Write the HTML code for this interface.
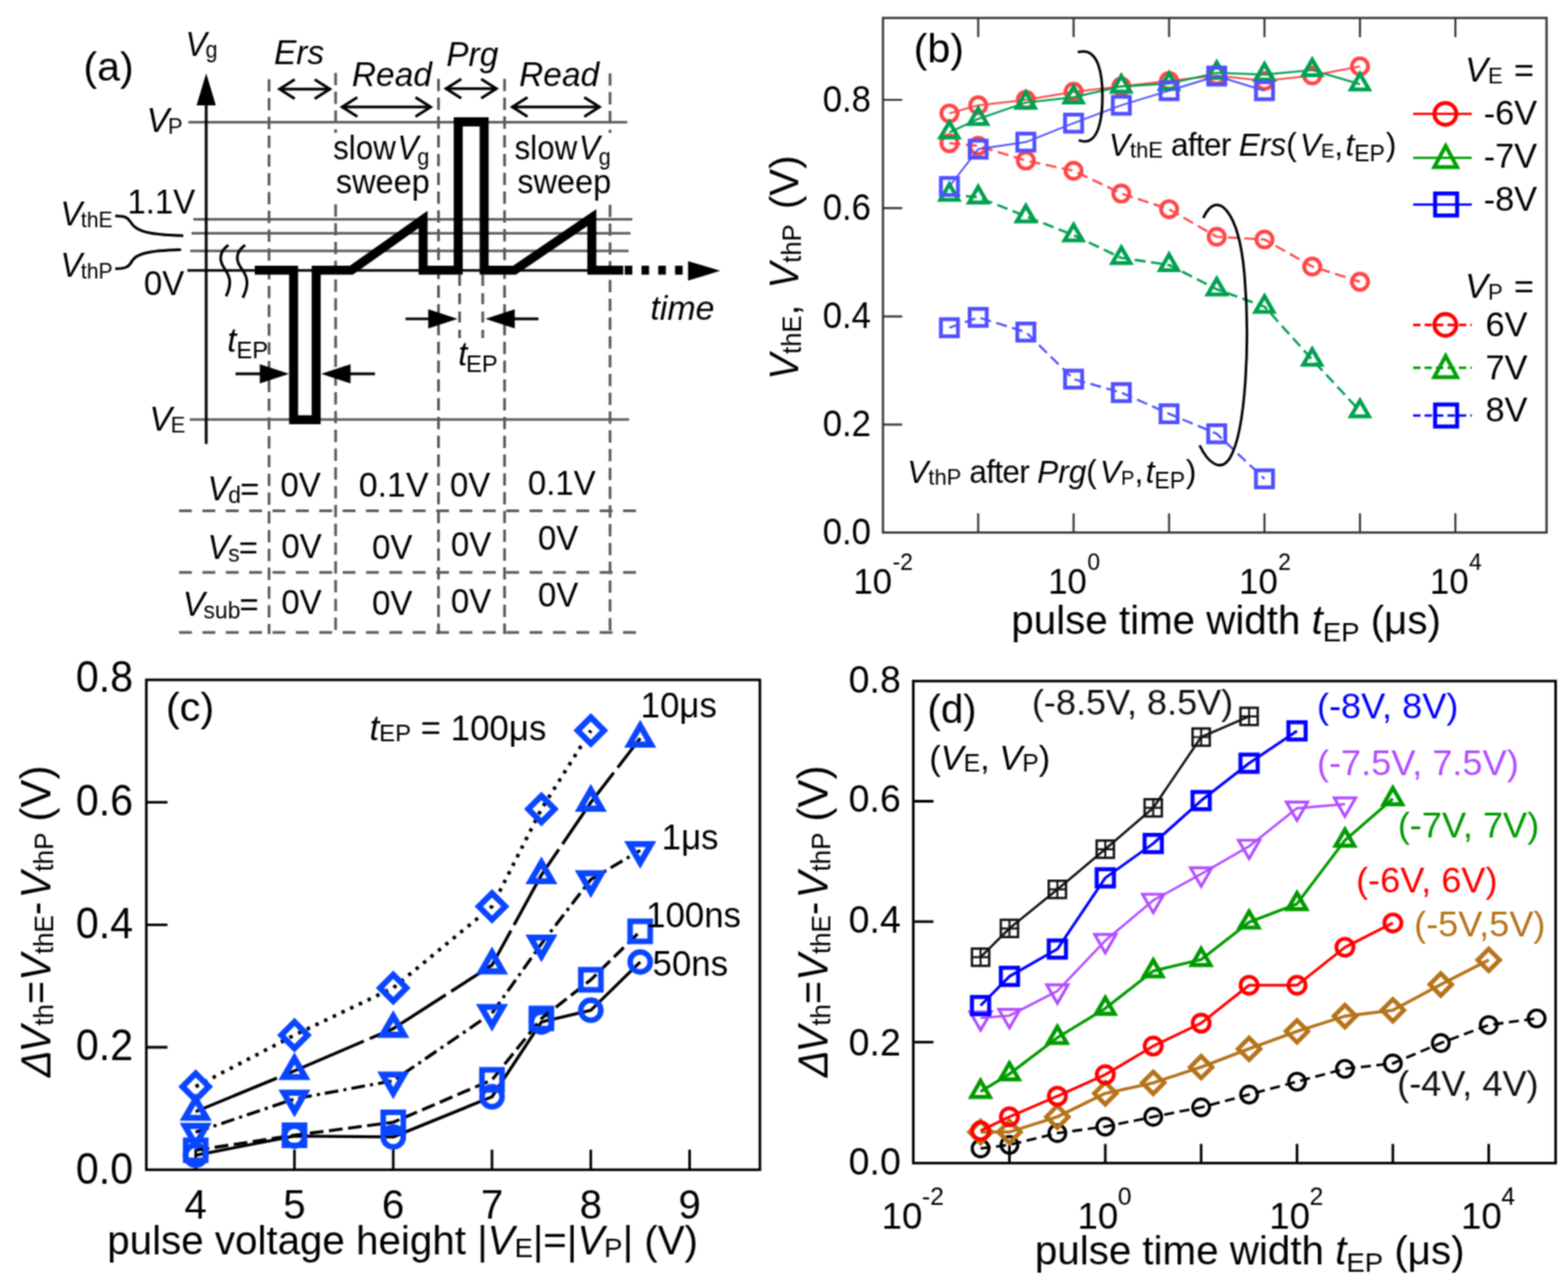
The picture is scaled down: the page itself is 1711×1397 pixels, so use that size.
<!DOCTYPE html>
<html lang="en"><head><meta charset="utf-8"><title>Figure</title>
<style>
html,body{margin:0;padding:0;background:#fff;}
body{width:1711px;height:1397px;overflow:hidden;}
svg{display:block;font-family:'Liberation Sans', sans-serif;}
</style></head><body>
<svg width="1711" height="1397" viewBox="0 0 1711 1397">
<defs><filter id="soft" x="0" y="0" width="1711" height="1397" filterUnits="userSpaceOnUse" color-interpolation-filters="sRGB"><feConvolveMatrix order="3" kernelMatrix="1 2 1 2 4 2 1 2 1" divisor="16" edgeMode="duplicate" preserveAlpha="true"/></filter></defs>
<g filter="url(#soft)">
<rect width="1711" height="1397" fill="#fff"/>
<g id="panel-a">
<line x1="293.6" y1="86.5" x2="293.6" y2="692" stroke="#5c5c5c" stroke-width="3" stroke-linecap="butt" stroke-dasharray="13.5 7"/>
<line x1="366.2" y1="79.5" x2="366.2" y2="692" stroke="#5c5c5c" stroke-width="3" stroke-linecap="butt" stroke-dasharray="13.5 7"/>
<line x1="478.5" y1="86" x2="478.5" y2="692" stroke="#5c5c5c" stroke-width="3" stroke-linecap="butt" stroke-dasharray="13.5 7"/>
<line x1="550.6" y1="86" x2="550.6" y2="692" stroke="#5c5c5c" stroke-width="3" stroke-linecap="butt" stroke-dasharray="13.5 7"/>
<line x1="665.7" y1="80" x2="665.7" y2="692" stroke="#5c5c5c" stroke-width="3" stroke-linecap="butt" stroke-dasharray="13.5 7"/>
<line x1="195.4" y1="557.5" x2="696" y2="557.5" stroke="#5c5c5c" stroke-width="3" stroke-linecap="butt" stroke-dasharray="14 11.5"/>
<line x1="195.4" y1="624.8" x2="696" y2="624.8" stroke="#5c5c5c" stroke-width="3" stroke-linecap="butt" stroke-dasharray="14 11.5"/>
<line x1="195.4" y1="690.3" x2="696" y2="690.3" stroke="#5c5c5c" stroke-width="3" stroke-linecap="butt" stroke-dasharray="14 11.5"/>
<rect x="361" y="145" width="112" height="74" fill="#fff"/>
<rect x="556" y="145" width="114" height="74" fill="#fff"/>
<line x1="205.5" y1="133.3" x2="684.5" y2="133.3" stroke="#5c5c5c" stroke-width="2.8" stroke-linecap="butt"/>
<line x1="211" y1="239.4" x2="690" y2="239.4" stroke="#5c5c5c" stroke-width="2.8" stroke-linecap="butt"/>
<line x1="209" y1="254.6" x2="688" y2="254.6" stroke="#5c5c5c" stroke-width="2.8" stroke-linecap="butt"/>
<line x1="207.5" y1="273.8" x2="686" y2="273.8" stroke="#5c5c5c" stroke-width="2.8" stroke-linecap="butt"/>
<line x1="207" y1="457.8" x2="686.5" y2="457.8" stroke="#5c5c5c" stroke-width="2.8" stroke-linecap="butt"/>
<line x1="501.5" y1="300" x2="501.5" y2="369" stroke="#5c5c5c" stroke-width="3" stroke-linecap="butt" stroke-dasharray="12 8"/>
<line x1="526.8" y1="300" x2="526.8" y2="369" stroke="#5c5c5c" stroke-width="3" stroke-linecap="butt" stroke-dasharray="12 8"/>
<line x1="225" y1="112" x2="225" y2="484.5" stroke="#000" stroke-width="3" stroke-linecap="butt"/>
<polygon points="225,80 235.5,115 214.5,115" fill="#000"/>
<line x1="204.5" y1="295.2" x2="680" y2="295.2" stroke="#000" stroke-width="2.8" stroke-linecap="butt"/>
<path d="M278,294.8 H320.4 V458.2 H345 V294.8 H383.5 L461.7,239.5 V294.8 H500 V133 H528.3 V294.8 H561.5 L645.8,237.5 V294.8 H680" stroke="#000" stroke-width="9.8" fill="none" stroke-linejoin="miter" stroke-linecap="butt" stroke-miterlimit="2.2"/>
<line x1="681.7" y1="294.8" x2="752" y2="294.8" stroke="#000" stroke-width="9.8" stroke-linecap="butt" stroke-dasharray="8.3 10"/>
<polygon points="786,295.6 750.8,285 750.8,306.2" fill="#000"/>
<path d="M249.2,267.5 C240,274 238.5,283 244,291.5 C250.5,301 254,308 246.7,323.3" stroke="#000" stroke-width="3" fill="none" stroke-linejoin="miter" stroke-linecap="butt"/>
<path d="M267.5,267.5 C258,274 256.5,283 262.5,291.5 C269.5,301 273,309 265,325" stroke="#000" stroke-width="3" fill="none" stroke-linejoin="miter" stroke-linecap="butt"/>
<path d="M125.8,235.8 C137,235.5 140,238 143,243 C147,250 155,256 200,257.2" stroke="#000" stroke-width="2.9" fill="none" stroke-linejoin="miter" stroke-linecap="butt"/>
<path d="M125.8,293.3 C137,293.5 141,291 144,285 C148,278 158,273.5 197.5,272.5" stroke="#000" stroke-width="2.9" fill="none" stroke-linejoin="miter" stroke-linecap="butt"/>
<line x1="305.1" y1="97.3" x2="359.9" y2="97.3" stroke="#000" stroke-width="3.1" stroke-linecap="butt"/>
<path d="M321.6,86.8 L305.1,97.3 L321.6,107.8" stroke="#000" stroke-width="3.1" fill="none" stroke-linejoin="miter" stroke-linecap="butt"/>
<path d="M343.4,86.8 L359.9,97.3 L343.4,107.8" stroke="#000" stroke-width="3.1" fill="none" stroke-linejoin="miter" stroke-linecap="butt"/>
<line x1="373.4" y1="116.8" x2="469.9" y2="116.8" stroke="#000" stroke-width="3.1" stroke-linecap="butt"/>
<path d="M389.90000000000003,106.3 L373.40000000000003,116.8 L389.90000000000003,127.3" stroke="#000" stroke-width="3.1" fill="none" stroke-linejoin="miter" stroke-linecap="butt"/>
<path d="M453.4,106.3 L469.9,116.8 L453.4,127.3" stroke="#000" stroke-width="3.1" fill="none" stroke-linejoin="miter" stroke-linecap="butt"/>
<line x1="486.8" y1="96.7" x2="541.6" y2="96.7" stroke="#000" stroke-width="3.1" stroke-linecap="butt"/>
<path d="M503.3,86.2 L486.8,96.7 L503.3,107.2" stroke="#000" stroke-width="3.1" fill="none" stroke-linejoin="miter" stroke-linecap="butt"/>
<path d="M525.1,86.2 L541.6,96.7 L525.1,107.2" stroke="#000" stroke-width="3.1" fill="none" stroke-linejoin="miter" stroke-linecap="butt"/>
<line x1="559.1" y1="116.8" x2="654.1" y2="116.8" stroke="#000" stroke-width="3.1" stroke-linecap="butt"/>
<path d="M575.6,106.3 L559.1,116.8 L575.6,127.3" stroke="#000" stroke-width="3.1" fill="none" stroke-linejoin="miter" stroke-linecap="butt"/>
<path d="M637.6,106.3 L654.1,116.8 L637.6,127.3" stroke="#000" stroke-width="3.1" fill="none" stroke-linejoin="miter" stroke-linecap="butt"/>
<line x1="289.9" y1="408" x2="257" y2="408" stroke="#000" stroke-width="2.8" stroke-linecap="butt"/>
<polygon points="315.5,408 283.5,397.5 283.5,418.5" fill="#000"/>
<line x1="376.1" y1="408" x2="409.2" y2="408" stroke="#000" stroke-width="2.8" stroke-linecap="butt"/>
<polygon points="350.5,408 382.5,397.5 382.5,418.5" fill="#000"/>
<line x1="473.7" y1="348" x2="442.5" y2="348" stroke="#000" stroke-width="2.8" stroke-linecap="butt"/>
<polygon points="499.3,348 467.3,337.5 467.3,358.5" fill="#000"/>
<line x1="555.3" y1="348" x2="587.5" y2="348" stroke="#000" stroke-width="2.8" stroke-linecap="butt"/>
<polygon points="529.7,348 561.7,337.5 561.7,358.5" fill="#000"/>
<text transform="translate(91 88) scale(1.02 1)" font-size="44" text-anchor="start" fill="#000"><tspan>(a)</tspan></text>
<text transform="translate(202.5 61) scale(0.94 1)" font-size="37" text-anchor="start" fill="#000"><tspan font-style="italic">V</tspan><tspan font-size="25" dy="2" dx="-1.5">g</tspan></text>
<text x="160" y="144" font-size="37" text-anchor="start" fill="#000"><tspan font-style="italic">V</tspan><tspan font-size="24" dy="2" dx="-1.5">P</tspan></text>
<text x="139" y="233" font-size="36" text-anchor="start" fill="#000"><tspan>1.1V</tspan></text>
<text transform="translate(66 246) scale(0.96 1)" font-size="37" text-anchor="start" fill="#000"><tspan font-style="italic">V</tspan><tspan font-size="24" dy="2" dx="-1.5">thE</tspan></text>
<text transform="translate(66 302) scale(0.96 1)" font-size="37" text-anchor="start" fill="#000"><tspan font-style="italic">V</tspan><tspan font-size="24" dy="2" dx="-1.5">thP</tspan></text>
<text x="157" y="322" font-size="36" text-anchor="start" fill="#000"><tspan>0V</tspan></text>
<text x="163" y="470" font-size="37" text-anchor="start" fill="#000"><tspan font-style="italic">V</tspan><tspan font-size="24" dy="2" dx="-1.5">E</tspan></text>
<text x="299" y="69.5" font-size="36.5" text-anchor="start" fill="#000"><tspan font-style="italic">Ers</tspan></text>
<text x="384" y="93.5" font-size="36.5" text-anchor="start" fill="#000"><tspan font-style="italic">Read</tspan></text>
<text x="487" y="71.5" font-size="36.5" text-anchor="start" fill="#000"><tspan font-style="italic">Prg</tspan></text>
<text x="566.5" y="93.5" font-size="36.5" text-anchor="start" fill="#000"><tspan font-style="italic">Read</tspan></text>
<text transform="translate(363.5 173.5) scale(0.95 1)" font-size="36" text-anchor="start" fill="#000"><tspan>slow</tspan><tspan font-style="italic" dx="2">V</tspan><tspan font-size="25" dy="6" dx="-1.5">g</tspan></text>
<text transform="translate(366.5 210.5) scale(0.985 1)" font-size="36" text-anchor="start" fill="#000"><tspan>sweep</tspan></text>
<text transform="translate(561.5 173.5) scale(0.95 1)" font-size="36" text-anchor="start" fill="#000"><tspan>slow</tspan><tspan font-style="italic" dx="2">V</tspan><tspan font-size="25" dy="6" dx="-1.5">g</tspan></text>
<text transform="translate(564.5 210.5) scale(0.985 1)" font-size="36" text-anchor="start" fill="#000"><tspan>sweep</tspan></text>
<text x="709.7" y="349" font-size="37" text-anchor="start" fill="#000"><tspan font-style="italic">time</tspan></text>
<text x="248" y="384" font-size="36" text-anchor="start" fill="#000"><tspan font-style="italic">t</tspan><tspan font-size="26" dy="7">EP</tspan></text>
<text x="500" y="399" font-size="36" text-anchor="start" fill="#000"><tspan font-style="italic">t</tspan><tspan font-size="26" dy="7" dx="-1.5">EP</tspan></text>
<text x="226.5" y="545.5" font-size="36" text-anchor="start" fill="#000"><tspan font-style="italic">V</tspan><tspan font-size="25" dy="3" dx="-1.5">d</tspan><tspan dy="-3" dx="-1">=</tspan></text>
<text x="226.5" y="609.5" font-size="36" text-anchor="start" fill="#000"><tspan font-style="italic">V</tspan><tspan font-size="25" dy="3" dx="-1.5">s</tspan><tspan dy="-3" dx="-1">=</tspan></text>
<text x="199.5" y="671.5" font-size="36" text-anchor="start" fill="#000"><tspan font-style="italic">V</tspan><tspan font-size="25" dy="3" dx="-1.5">sub</tspan><tspan dy="-3" dx="-1">=</tspan></text>
<text x="306" y="542" font-size="36" text-anchor="start" fill="#000"><tspan>0V</tspan></text>
<text x="307" y="608.6" font-size="36" text-anchor="start" fill="#000"><tspan>0V</tspan></text>
<text x="307" y="669.5" font-size="36" text-anchor="start" fill="#000"><tspan>0V</tspan></text>
<text x="391.5" y="542" font-size="37" text-anchor="start" fill="#000"><tspan>0.1V</tspan></text>
<text x="406" y="609.8" font-size="36" text-anchor="start" fill="#000"><tspan>0V</tspan></text>
<text x="406" y="670.7" font-size="36" text-anchor="start" fill="#000"><tspan>0V</tspan></text>
<text x="491" y="542" font-size="36" text-anchor="start" fill="#000"><tspan>0V</tspan></text>
<text x="492" y="606.7" font-size="36" text-anchor="start" fill="#000"><tspan>0V</tspan></text>
<text x="492" y="668.6" font-size="36" text-anchor="start" fill="#000"><tspan>0V</tspan></text>
<text x="576" y="540" font-size="36" text-anchor="start" fill="#000"><tspan>0.1V</tspan></text>
<text x="587" y="599.9" font-size="36" text-anchor="start" fill="#000"><tspan>0V</tspan></text>
<text x="587" y="661.9" font-size="36" text-anchor="start" fill="#000"><tspan>0V</tspan></text>
</g>
<g id="panel-b">
<path d="M1036.0,156.3 L1067.4,159.2 L1119.4,175.2 L1171.5,186.4 L1223.6,211.2 L1275.7,228.3 L1327.7,258.4 L1379.8,261.4 L1431.9,290.9 L1484.0,307.5" stroke="#ff4646" stroke-width="2.4" fill="none" stroke-linejoin="round" stroke-linecap="butt" stroke-dasharray="12 6"/>
<circle cx="1036.0" cy="156.3" r="8.8" stroke="#ff4646" stroke-width="4.2" fill="none"/>
<circle cx="1067.4" cy="159.2" r="8.8" stroke="#ff4646" stroke-width="4.2" fill="none"/>
<circle cx="1119.4" cy="175.2" r="8.8" stroke="#ff4646" stroke-width="4.2" fill="none"/>
<circle cx="1171.5" cy="186.4" r="8.8" stroke="#ff4646" stroke-width="4.2" fill="none"/>
<circle cx="1223.6" cy="211.2" r="8.8" stroke="#ff4646" stroke-width="4.2" fill="none"/>
<circle cx="1275.7" cy="228.3" r="8.8" stroke="#ff4646" stroke-width="4.2" fill="none"/>
<circle cx="1327.7" cy="258.4" r="8.8" stroke="#ff4646" stroke-width="4.2" fill="none"/>
<circle cx="1379.8" cy="261.4" r="8.8" stroke="#ff4646" stroke-width="4.2" fill="none"/>
<circle cx="1431.9" cy="290.9" r="8.8" stroke="#ff4646" stroke-width="4.2" fill="none"/>
<circle cx="1484.0" cy="307.5" r="8.8" stroke="#ff4646" stroke-width="4.2" fill="none"/>
<path d="M1036.0,212.4 L1067.4,215.3 L1119.4,236.0 L1171.5,256.7 L1223.6,281.5 L1275.7,289.2 L1327.7,315.7 L1379.8,334.6 L1431.9,392.5 L1484.0,448.6" stroke="#00a050" stroke-width="2.6" fill="none" stroke-linejoin="round" stroke-linecap="butt" stroke-dasharray="12 6"/>
<polygon points="1036.0,201.0 1045.9,218.1 1026.1,218.1" stroke="#00a050" stroke-width="4.3" fill="none" stroke-linejoin="miter"/>
<polygon points="1067.4,203.9 1077.2,221.0 1057.5,221.0" stroke="#00a050" stroke-width="4.3" fill="none" stroke-linejoin="miter"/>
<polygon points="1119.4,224.6 1129.3,241.7 1109.5,241.7" stroke="#00a050" stroke-width="4.3" fill="none" stroke-linejoin="miter"/>
<polygon points="1171.5,245.3 1181.4,262.4 1161.6,262.4" stroke="#00a050" stroke-width="4.3" fill="none" stroke-linejoin="miter"/>
<polygon points="1223.6,270.1 1233.5,287.2 1213.7,287.2" stroke="#00a050" stroke-width="4.3" fill="none" stroke-linejoin="miter"/>
<polygon points="1275.7,277.7 1285.5,294.9 1265.8,294.9" stroke="#00a050" stroke-width="4.3" fill="none" stroke-linejoin="miter"/>
<polygon points="1327.7,304.3 1337.6,321.4 1317.8,321.4" stroke="#00a050" stroke-width="4.3" fill="none" stroke-linejoin="miter"/>
<polygon points="1379.8,323.2 1389.7,340.3 1369.9,340.3" stroke="#00a050" stroke-width="4.3" fill="none" stroke-linejoin="miter"/>
<polygon points="1431.9,381.1 1441.8,398.2 1422.0,398.2" stroke="#00a050" stroke-width="4.3" fill="none" stroke-linejoin="miter"/>
<polygon points="1484.0,437.2 1493.8,454.3 1474.1,454.3" stroke="#00a050" stroke-width="4.3" fill="none" stroke-linejoin="miter"/>
<path d="M1036.0,357.7 L1067.4,346.4 L1119.4,362.4 L1171.5,413.8 L1223.6,428.5 L1275.7,451.6 L1327.7,473.4 L1379.8,522.6" stroke="#5050ff" stroke-width="2.4" fill="none" stroke-linejoin="round" stroke-linecap="butt" stroke-dasharray="12 6"/>
<rect x="1026.7" y="348.4" width="18.6" height="18.6" stroke="#5050ff" stroke-width="4.2" fill="none"/>
<rect x="1058.1" y="337.1" width="18.6" height="18.6" stroke="#5050ff" stroke-width="4.2" fill="none"/>
<rect x="1110.1" y="353.1" width="18.6" height="18.6" stroke="#5050ff" stroke-width="4.2" fill="none"/>
<rect x="1162.2" y="404.5" width="18.6" height="18.6" stroke="#5050ff" stroke-width="4.2" fill="none"/>
<rect x="1214.3" y="419.2" width="18.6" height="18.6" stroke="#5050ff" stroke-width="4.2" fill="none"/>
<rect x="1266.4" y="442.3" width="18.6" height="18.6" stroke="#5050ff" stroke-width="4.2" fill="none"/>
<rect x="1318.4" y="464.1" width="18.6" height="18.6" stroke="#5050ff" stroke-width="4.2" fill="none"/>
<rect x="1370.5" y="513.3" width="18.6" height="18.6" stroke="#5050ff" stroke-width="4.2" fill="none"/>
<path d="M1036.0,123.8 L1067.4,114.9 L1119.4,109.0 L1171.5,100.2 L1223.6,94.3 L1275.7,88.3 L1327.7,82.4 L1379.8,88.3 L1431.9,82.4 L1484.0,72.4" stroke="#ff4646" stroke-width="2" fill="none" stroke-linejoin="round" stroke-linecap="butt"/>
<circle cx="1036.0" cy="123.8" r="8.8" stroke="#ff4646" stroke-width="4.2" fill="none"/>
<circle cx="1067.4" cy="114.9" r="8.8" stroke="#ff4646" stroke-width="4.2" fill="none"/>
<circle cx="1119.4" cy="109.0" r="8.8" stroke="#ff4646" stroke-width="4.2" fill="none"/>
<circle cx="1171.5" cy="100.2" r="8.8" stroke="#ff4646" stroke-width="4.2" fill="none"/>
<circle cx="1223.6" cy="94.3" r="8.8" stroke="#ff4646" stroke-width="4.2" fill="none"/>
<circle cx="1275.7" cy="88.3" r="8.8" stroke="#ff4646" stroke-width="4.2" fill="none"/>
<circle cx="1327.7" cy="82.4" r="8.8" stroke="#ff4646" stroke-width="4.2" fill="none"/>
<circle cx="1379.8" cy="88.3" r="8.8" stroke="#ff4646" stroke-width="4.2" fill="none"/>
<circle cx="1431.9" cy="82.4" r="8.8" stroke="#ff4646" stroke-width="4.2" fill="none"/>
<circle cx="1484.0" cy="72.4" r="8.8" stroke="#ff4646" stroke-width="4.2" fill="none"/>
<path d="M1036.0,144.5 L1067.4,129.7 L1119.4,112.0 L1171.5,106.1 L1223.6,94.3 L1275.7,91.3 L1327.7,79.5 L1379.8,81.3 L1431.9,76.5 L1484.0,91.9" stroke="#00a050" stroke-width="2.2" fill="none" stroke-linejoin="round" stroke-linecap="butt"/>
<polygon points="1036.0,133.1 1045.9,150.2 1026.1,150.2" stroke="#00a050" stroke-width="4.3" fill="none" stroke-linejoin="miter"/>
<polygon points="1067.4,118.3 1077.2,135.4 1057.5,135.4" stroke="#00a050" stroke-width="4.3" fill="none" stroke-linejoin="miter"/>
<polygon points="1119.4,100.6 1129.3,117.7 1109.5,117.7" stroke="#00a050" stroke-width="4.3" fill="none" stroke-linejoin="miter"/>
<polygon points="1171.5,94.7 1181.4,111.8 1161.6,111.8" stroke="#00a050" stroke-width="4.3" fill="none" stroke-linejoin="miter"/>
<polygon points="1223.6,82.9 1233.5,100.0 1213.7,100.0" stroke="#00a050" stroke-width="4.3" fill="none" stroke-linejoin="miter"/>
<polygon points="1275.7,79.9 1285.5,97.0 1265.8,97.0" stroke="#00a050" stroke-width="4.3" fill="none" stroke-linejoin="miter"/>
<polygon points="1327.7,68.1 1337.6,85.2 1317.8,85.2" stroke="#00a050" stroke-width="4.3" fill="none" stroke-linejoin="miter"/>
<polygon points="1379.8,69.9 1389.7,87.0 1369.9,87.0" stroke="#00a050" stroke-width="4.3" fill="none" stroke-linejoin="miter"/>
<polygon points="1431.9,65.1 1441.8,82.2 1422.0,82.2" stroke="#00a050" stroke-width="4.3" fill="none" stroke-linejoin="miter"/>
<polygon points="1484.0,80.5 1493.8,97.6 1474.1,97.6" stroke="#00a050" stroke-width="4.3" fill="none" stroke-linejoin="miter"/>
<path d="M1036.0,203.5 L1067.4,162.8 L1119.4,155.1 L1171.5,134.4 L1223.6,114.9 L1275.7,99.0 L1327.7,83.0 L1379.8,99.0" stroke="#5050ff" stroke-width="2" fill="none" stroke-linejoin="round" stroke-linecap="butt"/>
<rect x="1026.7" y="194.2" width="18.6" height="18.6" stroke="#5050ff" stroke-width="4.2" fill="none"/>
<rect x="1058.1" y="153.5" width="18.6" height="18.6" stroke="#5050ff" stroke-width="4.2" fill="none"/>
<rect x="1110.1" y="145.8" width="18.6" height="18.6" stroke="#5050ff" stroke-width="4.2" fill="none"/>
<rect x="1162.2" y="125.1" width="18.6" height="18.6" stroke="#5050ff" stroke-width="4.2" fill="none"/>
<rect x="1214.3" y="105.6" width="18.6" height="18.6" stroke="#5050ff" stroke-width="4.2" fill="none"/>
<rect x="1266.4" y="89.7" width="18.6" height="18.6" stroke="#5050ff" stroke-width="4.2" fill="none"/>
<rect x="1318.4" y="73.7" width="18.6" height="18.6" stroke="#5050ff" stroke-width="4.2" fill="none"/>
<rect x="1370.5" y="89.7" width="18.6" height="18.6" stroke="#5050ff" stroke-width="4.2" fill="none"/>
<rect x="963.5" y="19.6" width="724.0999999999999" height="561.6" fill="none" stroke="#333" stroke-width="2.4"/>
<path d="M1067.4,581.2v-21M1067.4,19.6v21M1171.5,581.2v-21M1171.5,19.6v21M1275.7,581.2v-21M1275.7,19.6v21M1379.8,581.2v-21M1379.8,19.6v21M1484.0,581.2v-21M1484.0,19.6v21M1588.1,581.2v-21M1588.1,19.6v21" stroke="#333" stroke-width="2.2" fill="none" stroke-linejoin="miter" stroke-linecap="butt"/>
<path d="M963.5,463.4h21M963.5,345.3h21M963.5,227.1h21M963.5,109.0h21" stroke="#333" stroke-width="2.2" fill="none" stroke-linejoin="miter" stroke-linecap="butt"/>
<text transform="translate(950.5 594.3) scale(1 1.05)" font-size="38" text-anchor="end" fill="#000"><tspan>0.0</tspan></text>
<text transform="translate(950.5 476.2) scale(1 1.05)" font-size="38" text-anchor="end" fill="#000"><tspan>0.2</tspan></text>
<text transform="translate(950.5 358.1) scale(1 1.05)" font-size="38" text-anchor="end" fill="#000"><tspan>0.4</tspan></text>
<text transform="translate(950.5 239.9) scale(1 1.05)" font-size="38" text-anchor="end" fill="#000"><tspan>0.6</tspan></text>
<text transform="translate(950.5 121.8) scale(1 1.05)" font-size="38" text-anchor="end" fill="#000"><tspan>0.8</tspan></text>
<text x="931.2" y="648" font-size="38" text-anchor="start" fill="#000"><tspan>10</tspan><tspan font-size="25" dy="-26" dx="0.5">-2</tspan></text>
<text x="1143.7" y="648" font-size="38" text-anchor="start" fill="#000"><tspan>10</tspan><tspan font-size="25" dy="-26" dx="0.5">0</tspan></text>
<text x="1352.0" y="648" font-size="38" text-anchor="start" fill="#000"><tspan>10</tspan><tspan font-size="25" dy="-26" dx="0.5">2</tspan></text>
<text x="1560.3" y="648" font-size="38" text-anchor="start" fill="#000"><tspan>10</tspan><tspan font-size="25" dy="-26" dx="0.5">4</tspan></text>
<text x="1103.5" y="692" font-size="44" text-anchor="start" fill="#000"><tspan>pulse time width </tspan><tspan font-style="italic">t</tspan><tspan font-size="30" dy="8">EP</tspan><tspan dy="-8"> (μs)</tspan></text>
<text transform="translate(870.5 414.5) rotate(-90) scale(0.963 1)" font-size="44" text-anchor="start" fill="#000"><tspan font-style="italic">V</tspan><tspan font-size="29" dy="3.5">thE</tspan><tspan dy="-3.5">, </tspan><tspan font-style="italic" dx="6">V</tspan><tspan font-size="29" dy="3.5">thP</tspan></text>
<text transform="translate(870.5 228.3) rotate(-90)" font-size="44" text-anchor="start" fill="#000"><tspan>(V)</tspan></text>
<text transform="translate(997 68.3) scale(1.02 1)" font-size="44" text-anchor="start" fill="#000"><tspan>(b)</tspan></text>
<path d="M1176,57 C1200,50 1203,85 1203,105 C1203,125 1200,162 1177,153" stroke="#000" stroke-width="2.8" fill="none" stroke-linejoin="miter" stroke-linecap="butt"/>
<path d="M1313,238 C1328,205 1352,230 1358,300 C1364,370 1360,470 1342,500 C1332,516 1318,505 1309,486" stroke="#000" stroke-width="2.8" fill="none" stroke-linejoin="miter" stroke-linecap="butt"/>
<text x="1210" y="170" font-size="34.5" text-anchor="start" fill="#000"><tspan font-style="italic">V</tspan><tspan font-size="24" dy="2">thE</tspan><tspan dy="-2" letter-spacing="-0.8"> after </tspan><tspan font-style="italic" dx="0">Ers</tspan><tspan>(</tspan><tspan font-style="italic" dx="3.5">V</tspan><tspan font-size="22" dy="2">E</tspan><tspan dy="-2">,</tspan><tspan font-style="italic" dx="2.5">t</tspan><tspan font-size="25" dy="6">EP</tspan><tspan dy="-6" dx="1">)</tspan></text>
<text x="990" y="527" font-size="34.5" text-anchor="start" fill="#000"><tspan font-style="italic">V</tspan><tspan font-size="24" dy="2">thP</tspan><tspan dy="-2" letter-spacing="-0.8"> after </tspan><tspan font-style="italic" dx="0">Prg</tspan><tspan>(</tspan><tspan font-style="italic" dx="3.5">V</tspan><tspan font-size="22" dy="2">P</tspan><tspan dy="-2">,</tspan><tspan font-style="italic" dx="2.5">t</tspan><tspan font-size="25" dy="6">EP</tspan><tspan dy="-6" dx="1">)</tspan></text>
<text x="1674" y="88.5" font-size="37.5" text-anchor="end" fill="#000"><tspan font-style="italic">V</tspan><tspan font-size="24" dy="2">E</tspan><tspan dy="-2" dx="2"> =</tspan></text>
<text x="1674" y="325" font-size="37.5" text-anchor="end" fill="#000"><tspan font-style="italic">V</tspan><tspan font-size="24" dy="2">P</tspan><tspan dy="-2" dx="2"> =</tspan></text>
<line x1="1542" y1="124.3" x2="1606" y2="124.3" stroke="#ff0000" stroke-width="2.6" stroke-linecap="butt"/>
<circle cx="1577.2" cy="124.3" r="12" stroke="#ff0000" stroke-width="4.2" fill="none"/>
<text x="1619" y="136" font-size="37.5" text-anchor="start" fill="#000"><tspan>-6V</tspan></text>
<line x1="1542" y1="172.2" x2="1606" y2="172.2" stroke="#00a000" stroke-width="2.6" stroke-linecap="butt"/>
<polygon points="1577.5,159.2 1590,182.4 1565,182.4" stroke="#00a000" stroke-width="4.2" fill="none"/>
<text x="1619" y="183.3" font-size="37.5" text-anchor="start" fill="#000"><tspan>-7V</tspan></text>
<line x1="1542" y1="223.2" x2="1606" y2="223.2" stroke="#0000ff" stroke-width="2.6" stroke-linecap="butt"/>
<rect x="1566.0" y="211.2" width="24" height="24" stroke="#0000ff" stroke-width="4.4" fill="none"/>
<text x="1619" y="230" font-size="37.5" text-anchor="start" fill="#000"><tspan>-8V</tspan></text>
<line x1="1542" y1="354.6" x2="1606" y2="354.6" stroke="#ff0000" stroke-width="2.6" stroke-linecap="butt" stroke-dasharray="8 4.5"/>
<circle cx="1577.2" cy="354.6" r="12" stroke="#ff0000" stroke-width="4.2" fill="none"/>
<text x="1621" y="366.9" font-size="37.5" text-anchor="start" fill="#000"><tspan>6V</tspan></text>
<line x1="1542" y1="401.4" x2="1606" y2="401.4" stroke="#00a000" stroke-width="2.6" stroke-linecap="butt" stroke-dasharray="8 4.5"/>
<polygon points="1577.5,388.4 1590,411.6 1565,411.6" stroke="#00a000" stroke-width="4.2" fill="none"/>
<text x="1621" y="413.7" font-size="37.5" text-anchor="start" fill="#000"><tspan>7V</tspan></text>
<line x1="1542" y1="453.5" x2="1606" y2="453.5" stroke="#0000ff" stroke-width="2.6" stroke-linecap="butt" stroke-dasharray="8 4.5"/>
<rect x="1566.0" y="441.5" width="24" height="24" stroke="#0000ff" stroke-width="4.4" fill="none"/>
<text x="1621" y="460.4" font-size="37.5" text-anchor="start" fill="#000"><tspan>8V</tspan></text>
</g>
<g id="panel-c">
<rect x="159.7" y="742" width="669.5" height="534.7" fill="none" stroke="#000" stroke-width="2.8"/>
<path d="M213.5,1276.7v-22M321.3,1276.7v-22M429.1,1276.7v-22M536.9,1276.7v-22M644.7,1276.7v-22M752.5,1276.7v-22" stroke="#000" stroke-width="2.8" fill="none" stroke-linejoin="miter" stroke-linecap="butt"/>
<path d="M159.7,1143.0h23M159.7,1009.4h23M159.7,875.7h23" stroke="#000" stroke-width="2.8" fill="none" stroke-linejoin="miter" stroke-linecap="butt"/>
<path d="M213.5,1260.8 L321.3,1239.9 L429.1,1240.9 L536.9,1197.0 L590.8,1115.4 L644.7,1102.6 L698.6,1049.9" stroke="#000" stroke-width="3.4" fill="none" stroke-linejoin="round" stroke-linecap="butt"/>
<circle cx="213.5" cy="1260.8" r="10.95" stroke="#0a46ff" stroke-width="6.1" fill="none"/>
<circle cx="321.3" cy="1239.9" r="10.95" stroke="#0a46ff" stroke-width="6.1" fill="none"/>
<circle cx="429.1" cy="1240.9" r="10.95" stroke="#0a46ff" stroke-width="6.1" fill="none"/>
<circle cx="536.9" cy="1197.0" r="10.95" stroke="#0a46ff" stroke-width="6.1" fill="none"/>
<circle cx="590.8" cy="1115.4" r="10.95" stroke="#0a46ff" stroke-width="6.1" fill="none"/>
<circle cx="644.7" cy="1102.6" r="10.95" stroke="#0a46ff" stroke-width="6.1" fill="none"/>
<circle cx="698.6" cy="1049.9" r="10.95" stroke="#0a46ff" stroke-width="6.1" fill="none"/>
<path d="M213.5,1255.4 L321.3,1239.0 L429.1,1224.9 L536.9,1178.6 L590.8,1111.6 L644.7,1069.4 L698.6,1016.5" stroke="#000" stroke-width="3.4" fill="none" stroke-linejoin="round" stroke-linecap="butt" stroke-dasharray="15 6"/>
<rect x="202.6" y="1244.5" width="21.9" height="21.9" stroke="#0a46ff" stroke-width="6.1" fill="none"/>
<rect x="310.4" y="1228.1" width="21.9" height="21.9" stroke="#0a46ff" stroke-width="6.1" fill="none"/>
<rect x="418.2" y="1214.0" width="21.9" height="21.9" stroke="#0a46ff" stroke-width="6.1" fill="none"/>
<rect x="525.9" y="1167.6" width="21.9" height="21.9" stroke="#0a46ff" stroke-width="6.1" fill="none"/>
<rect x="579.8" y="1100.6" width="21.9" height="21.9" stroke="#0a46ff" stroke-width="6.1" fill="none"/>
<rect x="633.8" y="1058.4" width="21.9" height="21.9" stroke="#0a46ff" stroke-width="6.1" fill="none"/>
<rect x="687.6" y="1005.5" width="21.9" height="21.9" stroke="#0a46ff" stroke-width="6.1" fill="none"/>
<path d="M213.5,1235.7 L321.3,1199.4 L429.1,1179.5 L536.9,1105.8 L590.8,1030.0 L644.7,959.9 L698.6,928.1" stroke="#000" stroke-width="3.4" fill="none" stroke-linejoin="round" stroke-linecap="butt" stroke-dasharray="15 5.5 3.5 5.5"/>
<polygon points="213.5,1249.3 225.3,1228.9 201.7,1228.9" stroke="#0a46ff" stroke-width="6.6" fill="none" stroke-linejoin="miter"/>
<polygon points="321.3,1213.0 333.1,1192.6 309.5,1192.6" stroke="#0a46ff" stroke-width="6.6" fill="none" stroke-linejoin="miter"/>
<polygon points="429.1,1193.1 440.9,1172.7 417.3,1172.7" stroke="#0a46ff" stroke-width="6.6" fill="none" stroke-linejoin="miter"/>
<polygon points="536.9,1119.4 548.7,1099.0 525.1,1099.0" stroke="#0a46ff" stroke-width="6.6" fill="none" stroke-linejoin="miter"/>
<polygon points="590.8,1043.6 602.6,1023.2 579.0,1023.2" stroke="#0a46ff" stroke-width="6.6" fill="none" stroke-linejoin="miter"/>
<polygon points="644.7,973.6 656.5,953.1 632.9,953.1" stroke="#0a46ff" stroke-width="6.6" fill="none" stroke-linejoin="miter"/>
<polygon points="698.6,941.7 710.4,921.3 686.8,921.3" stroke="#0a46ff" stroke-width="6.6" fill="none" stroke-linejoin="miter"/>
<path d="M213.5,1213.2 L321.3,1168.7 L429.1,1122.6 L536.9,1053.3 L590.8,954.9 L644.7,875.8 L698.6,805.8" stroke="#000" stroke-width="3.4" fill="none" stroke-linejoin="round" stroke-linecap="butt" stroke-dasharray="96 7"/>
<polygon points="213.5,1199.6 225.3,1220.0 201.7,1220.0" stroke="#0a46ff" stroke-width="6.6" fill="none" stroke-linejoin="miter"/>
<polygon points="321.3,1155.1 333.1,1175.5 309.5,1175.5" stroke="#0a46ff" stroke-width="6.6" fill="none" stroke-linejoin="miter"/>
<polygon points="429.1,1109.0 440.9,1129.4 417.3,1129.4" stroke="#0a46ff" stroke-width="6.6" fill="none" stroke-linejoin="miter"/>
<polygon points="536.9,1039.7 548.7,1060.1 525.1,1060.1" stroke="#0a46ff" stroke-width="6.6" fill="none" stroke-linejoin="miter"/>
<polygon points="590.8,941.3 602.6,961.7 579.0,961.7" stroke="#0a46ff" stroke-width="6.6" fill="none" stroke-linejoin="miter"/>
<polygon points="644.7,862.2 656.5,882.6 632.9,882.6" stroke="#0a46ff" stroke-width="6.6" fill="none" stroke-linejoin="miter"/>
<polygon points="698.6,792.2 710.4,812.6 686.8,812.6" stroke="#0a46ff" stroke-width="6.6" fill="none" stroke-linejoin="miter"/>
<path d="M213.5,1185.9 L321.3,1129.7 L429.1,1078.2 L536.9,989.3 L590.8,883.0 L644.7,797.3" stroke="#000" stroke-width="4" fill="none" stroke-linejoin="round" stroke-linecap="butt" stroke-dasharray="3.8 6.7"/>
<polygon points="213.5,1171.5 227.9,1185.9 213.5,1200.3 199.1,1185.9" stroke="#0a46ff" stroke-width="6.5" fill="none" stroke-linejoin="miter"/>
<polygon points="321.3,1115.3 335.7,1129.7 321.3,1144.1 306.9,1129.7" stroke="#0a46ff" stroke-width="6.5" fill="none" stroke-linejoin="miter"/>
<polygon points="429.1,1063.8 443.5,1078.2 429.1,1092.6 414.7,1078.2" stroke="#0a46ff" stroke-width="6.5" fill="none" stroke-linejoin="miter"/>
<polygon points="536.9,974.9 551.3,989.3 536.9,1003.7 522.5,989.3" stroke="#0a46ff" stroke-width="6.5" fill="none" stroke-linejoin="miter"/>
<polygon points="590.8,868.6 605.2,883.0 590.8,897.4 576.4,883.0" stroke="#0a46ff" stroke-width="6.5" fill="none" stroke-linejoin="miter"/>
<polygon points="644.7,782.9 659.1,797.3 644.7,811.7 630.3,797.3" stroke="#0a46ff" stroke-width="6.5" fill="none" stroke-linejoin="miter"/>
<text transform="translate(145.2 1292) scale(1 1.06)" font-size="45" text-anchor="end" fill="#000"><tspan>0.0</tspan></text>
<text transform="translate(145.2 1157.4) scale(1 1.06)" font-size="45" text-anchor="end" fill="#000"><tspan>0.2</tspan></text>
<text transform="translate(145.2 1023.5) scale(1 1.06)" font-size="45" text-anchor="end" fill="#000"><tspan>0.4</tspan></text>
<text transform="translate(145.2 889.8) scale(1 1.06)" font-size="45" text-anchor="end" fill="#000"><tspan>0.6</tspan></text>
<text transform="translate(145.2 755) scale(1 1.06)" font-size="45" text-anchor="end" fill="#000"><tspan>0.8</tspan></text>
<text x="213.5" y="1329.5" font-size="44" text-anchor="middle" fill="#000"><tspan>4</tspan></text>
<text x="321.3" y="1329.5" font-size="44" text-anchor="middle" fill="#000"><tspan>5</tspan></text>
<text x="429.1" y="1329.5" font-size="44" text-anchor="middle" fill="#000"><tspan>6</tspan></text>
<text x="536.9" y="1329.5" font-size="44" text-anchor="middle" fill="#000"><tspan>7</tspan></text>
<text x="644.7" y="1329.5" font-size="44" text-anchor="middle" fill="#000"><tspan>8</tspan></text>
<text x="752.5" y="1329.5" font-size="44" text-anchor="middle" fill="#000"><tspan>9</tspan></text>
<text x="117" y="1368.5" font-size="44" text-anchor="start" fill="#000"><tspan>pulse voltage height |</tspan><tspan font-style="italic">V</tspan><tspan font-size="30" dy="3">E</tspan><tspan dy="-3">|=|</tspan><tspan font-style="italic">V</tspan><tspan font-size="30" dy="3">P</tspan><tspan dy="-3">| (V)</tspan></text>
<text transform="translate(54.9 1177.8) rotate(-90) scale(0.948 1) skewX(-12)" font-size="46" text-anchor="start" fill="#000"><tspan>Δ</tspan></text>
<text transform="translate(54.9 1148.7) rotate(-90) scale(0.948 1)" font-size="46" text-anchor="start" fill="#000"><tspan font-style="italic">V</tspan><tspan font-size="30" dy="3">th</tspan><tspan dy="-3">=</tspan><tspan font-style="italic">V</tspan><tspan font-size="30" dy="3">thE</tspan><tspan dy="-3">-</tspan><tspan font-style="italic" dx="4">V</tspan><tspan font-size="30" dy="3">thP</tspan></text>
<text transform="translate(54.9 896.8) rotate(-90)" font-size="46" text-anchor="start" fill="#000"><tspan>(V)</tspan></text>
<text transform="translate(181 786.5) scale(1.03 1)" font-size="44" text-anchor="start" fill="#000"><tspan>(c)</tspan></text>
<text x="403.3" y="808" font-size="38" text-anchor="start" fill="#000"><tspan font-style="italic">t</tspan><tspan font-size="26" dy="1">EP</tspan><tspan dy="-1"> = 100μs</tspan></text>
<text x="699" y="783" font-size="38" text-anchor="start" fill="#000"><tspan>10μs</tspan></text>
<text x="722" y="927" font-size="38" text-anchor="start" fill="#000"><tspan>1μs</tspan></text>
<text x="705" y="1012" font-size="38" text-anchor="start" fill="#000"><tspan>100ns</tspan></text>
<text x="712" y="1064.5" font-size="38" text-anchor="start" fill="#000"><tspan>50ns</tspan></text>
</g>
<g id="panel-d">
<rect x="996.6" y="743.3" width="700.9" height="526.1000000000001" fill="none" stroke="#000" stroke-width="2.8"/>
<path d="M1101.5,1269.4v-21M1206.1,1269.4v-21M1310.7,1269.4v-21M1415.3,1269.4v-21M1519.9,1269.4v-21M1624.5,1269.4v-21" stroke="#000" stroke-width="2.8" fill="none" stroke-linejoin="miter" stroke-linecap="butt"/>
<path d="M996.6,1137.3h22M996.6,1005.9h22M996.6,874.5h22" stroke="#000" stroke-width="2.8" fill="none" stroke-linejoin="miter" stroke-linecap="butt"/>
<path d="M1070.0,1253.4 L1101.5,1249.5 L1153.8,1236.7 L1206.1,1229.6 L1258.4,1218.9 L1310.7,1208.6 L1363.0,1194.6 L1415.3,1180.5 L1467.6,1166.5 L1519.9,1160.6 L1572.2,1138.4 L1624.5,1118.7 L1676.8,1111.5" stroke="#000" stroke-width="2.8" fill="none" stroke-linejoin="round" stroke-linecap="butt" stroke-dasharray="11 6"/>
<circle cx="1070.0" cy="1253.4" r="9.1" stroke="#000" stroke-width="3.4" fill="none"/>
<circle cx="1101.5" cy="1249.5" r="9.1" stroke="#000" stroke-width="3.4" fill="none"/>
<circle cx="1153.8" cy="1236.7" r="9.1" stroke="#000" stroke-width="3.4" fill="none"/>
<circle cx="1206.1" cy="1229.6" r="9.1" stroke="#000" stroke-width="3.4" fill="none"/>
<circle cx="1258.4" cy="1218.9" r="9.1" stroke="#000" stroke-width="3.4" fill="none"/>
<circle cx="1310.7" cy="1208.6" r="9.1" stroke="#000" stroke-width="3.4" fill="none"/>
<circle cx="1363.0" cy="1194.6" r="9.1" stroke="#000" stroke-width="3.4" fill="none"/>
<circle cx="1415.3" cy="1180.5" r="9.1" stroke="#000" stroke-width="3.4" fill="none"/>
<circle cx="1467.6" cy="1166.5" r="9.1" stroke="#000" stroke-width="3.4" fill="none"/>
<circle cx="1519.9" cy="1160.6" r="9.1" stroke="#000" stroke-width="3.4" fill="none"/>
<circle cx="1572.2" cy="1138.4" r="9.1" stroke="#000" stroke-width="3.4" fill="none"/>
<circle cx="1624.5" cy="1118.7" r="9.1" stroke="#000" stroke-width="3.4" fill="none"/>
<circle cx="1676.8" cy="1111.5" r="9.1" stroke="#000" stroke-width="3.4" fill="none"/>
<path d="M1070.0,1235.5 L1101.5,1235.5 L1153.8,1218.9 L1206.1,1193.3 L1258.4,1181.8 L1310.7,1164.7 L1363.0,1144.7 L1415.3,1125.6 L1467.6,1109.0 L1519.9,1102.6 L1572.2,1074.5 L1624.5,1047.7" stroke="#b5731a" stroke-width="3.4" fill="none" stroke-linejoin="round" stroke-linecap="butt"/>
<polygon points="1070.0,1223.5 1082.0,1235.5 1070.0,1247.5 1058.0,1235.5" stroke="#b5731a" stroke-width="4.8" fill="none" stroke-linejoin="miter"/>
<polygon points="1101.5,1223.5 1113.5,1235.5 1101.5,1247.5 1089.5,1235.5" stroke="#b5731a" stroke-width="4.8" fill="none" stroke-linejoin="miter"/>
<polygon points="1153.8,1206.9 1165.8,1218.9 1153.8,1230.9 1141.8,1218.9" stroke="#b5731a" stroke-width="4.8" fill="none" stroke-linejoin="miter"/>
<polygon points="1206.1,1181.3 1218.1,1193.3 1206.1,1205.3 1194.1,1193.3" stroke="#b5731a" stroke-width="4.8" fill="none" stroke-linejoin="miter"/>
<polygon points="1258.4,1169.8 1270.4,1181.8 1258.4,1193.8 1246.4,1181.8" stroke="#b5731a" stroke-width="4.8" fill="none" stroke-linejoin="miter"/>
<polygon points="1310.7,1152.7 1322.7,1164.7 1310.7,1176.7 1298.7,1164.7" stroke="#b5731a" stroke-width="4.8" fill="none" stroke-linejoin="miter"/>
<polygon points="1363.0,1132.7 1375.0,1144.7 1363.0,1156.7 1351.0,1144.7" stroke="#b5731a" stroke-width="4.8" fill="none" stroke-linejoin="miter"/>
<polygon points="1415.3,1113.6 1427.3,1125.6 1415.3,1137.6 1403.3,1125.6" stroke="#b5731a" stroke-width="4.8" fill="none" stroke-linejoin="miter"/>
<polygon points="1467.6,1097.0 1479.6,1109.0 1467.6,1121.0 1455.6,1109.0" stroke="#b5731a" stroke-width="4.8" fill="none" stroke-linejoin="miter"/>
<polygon points="1519.9,1090.6 1531.9,1102.6 1519.9,1114.6 1507.9,1102.6" stroke="#b5731a" stroke-width="4.8" fill="none" stroke-linejoin="miter"/>
<polygon points="1572.2,1062.5 1584.2,1074.5 1572.2,1086.5 1560.2,1074.5" stroke="#b5731a" stroke-width="4.8" fill="none" stroke-linejoin="miter"/>
<polygon points="1624.5,1035.7 1636.5,1047.7 1624.5,1059.7 1612.5,1047.7" stroke="#b5731a" stroke-width="4.8" fill="none" stroke-linejoin="miter"/>
<path d="M1070.0,1234.2 L1101.5,1218.9 L1153.8,1196.4 L1206.1,1172.9 L1258.4,1141.7 L1310.7,1116.6 L1363.0,1075.3 L1415.3,1075.3 L1467.6,1033.8 L1519.9,1007.3" stroke="#ff0000" stroke-width="3" fill="none" stroke-linejoin="round" stroke-linecap="butt"/>
<circle cx="1070.0" cy="1234.2" r="9.3" stroke="#ff0000" stroke-width="4.2" fill="none"/>
<circle cx="1101.5" cy="1218.9" r="9.3" stroke="#ff0000" stroke-width="4.2" fill="none"/>
<circle cx="1153.8" cy="1196.4" r="9.3" stroke="#ff0000" stroke-width="4.2" fill="none"/>
<circle cx="1206.1" cy="1172.9" r="9.3" stroke="#ff0000" stroke-width="4.2" fill="none"/>
<circle cx="1258.4" cy="1141.7" r="9.3" stroke="#ff0000" stroke-width="4.2" fill="none"/>
<circle cx="1310.7" cy="1116.6" r="9.3" stroke="#ff0000" stroke-width="4.2" fill="none"/>
<circle cx="1363.0" cy="1075.3" r="9.3" stroke="#ff0000" stroke-width="4.2" fill="none"/>
<circle cx="1415.3" cy="1075.3" r="9.3" stroke="#ff0000" stroke-width="4.2" fill="none"/>
<circle cx="1467.6" cy="1033.8" r="9.3" stroke="#ff0000" stroke-width="4.2" fill="none"/>
<circle cx="1519.9" cy="1007.3" r="9.3" stroke="#ff0000" stroke-width="4.2" fill="none"/>
<path d="M1070.0,1191.3 L1101.5,1172.1 L1153.8,1132.5 L1206.1,1100.6 L1258.4,1059.7 L1310.7,1047.3 L1363.0,1006.6 L1415.3,986.4 L1467.6,917.1 L1519.9,871.8" stroke="#009a00" stroke-width="3.2" fill="none" stroke-linejoin="round" stroke-linecap="butt"/>
<polygon points="1070.0,1179.5 1080.2,1197.2 1059.8,1197.2" stroke="#009a00" stroke-width="4.4" fill="none" stroke-linejoin="miter"/>
<polygon points="1101.5,1160.4 1111.7,1178.0 1091.3,1178.0" stroke="#009a00" stroke-width="4.4" fill="none" stroke-linejoin="miter"/>
<polygon points="1153.8,1120.7 1164.0,1138.4 1143.6,1138.4" stroke="#009a00" stroke-width="4.4" fill="none" stroke-linejoin="miter"/>
<polygon points="1206.1,1088.8 1216.3,1106.5 1195.9,1106.5" stroke="#009a00" stroke-width="4.4" fill="none" stroke-linejoin="miter"/>
<polygon points="1258.4,1047.9 1268.6,1065.6 1248.2,1065.6" stroke="#009a00" stroke-width="4.4" fill="none" stroke-linejoin="miter"/>
<polygon points="1310.7,1035.5 1320.9,1053.2 1300.5,1053.2" stroke="#009a00" stroke-width="4.4" fill="none" stroke-linejoin="miter"/>
<polygon points="1363.0,994.8 1373.2,1012.4 1352.8,1012.4" stroke="#009a00" stroke-width="4.4" fill="none" stroke-linejoin="miter"/>
<polygon points="1415.3,974.6 1425.5,992.3 1405.1,992.3" stroke="#009a00" stroke-width="4.4" fill="none" stroke-linejoin="miter"/>
<polygon points="1467.6,905.4 1477.8,923.0 1457.4,923.0" stroke="#009a00" stroke-width="4.4" fill="none" stroke-linejoin="miter"/>
<polygon points="1519.9,860.0 1530.1,877.7 1509.7,877.7" stroke="#009a00" stroke-width="4.4" fill="none" stroke-linejoin="miter"/>
<path d="M1070.0,1111.0 L1101.5,1108.5 L1153.8,1081.7 L1206.1,1026.6 L1258.4,982.7 L1310.7,953.9 L1363.0,923.7 L1415.3,882.1 L1467.6,877.6" stroke="#b24dff" stroke-width="2.6" fill="none" stroke-linejoin="round" stroke-linecap="butt"/>
<polygon points="1070.0,1124.4 1081.6,1104.3 1058.4,1104.3" stroke="#b24dff" stroke-width="3.2" fill="none" stroke-linejoin="miter"/>
<polygon points="1101.5,1121.9 1113.1,1101.7 1089.9,1101.7" stroke="#b24dff" stroke-width="3.2" fill="none" stroke-linejoin="miter"/>
<polygon points="1153.8,1095.1 1165.4,1074.9 1142.2,1074.9" stroke="#b24dff" stroke-width="3.2" fill="none" stroke-linejoin="miter"/>
<polygon points="1206.1,1040.0 1217.7,1019.9 1194.5,1019.9" stroke="#b24dff" stroke-width="3.2" fill="none" stroke-linejoin="miter"/>
<polygon points="1258.4,996.1 1270.0,976.0 1246.8,976.0" stroke="#b24dff" stroke-width="3.2" fill="none" stroke-linejoin="miter"/>
<polygon points="1310.7,967.4 1322.3,947.2 1299.1,947.2" stroke="#b24dff" stroke-width="3.2" fill="none" stroke-linejoin="miter"/>
<polygon points="1363.0,937.1 1374.6,917.0 1351.4,917.0" stroke="#b24dff" stroke-width="3.2" fill="none" stroke-linejoin="miter"/>
<polygon points="1415.3,895.5 1426.9,875.4 1403.7,875.4" stroke="#b24dff" stroke-width="3.2" fill="none" stroke-linejoin="miter"/>
<polygon points="1467.6,891.0 1479.2,870.9 1456.0,870.9" stroke="#b24dff" stroke-width="3.2" fill="none" stroke-linejoin="miter"/>
<path d="M1070.0,1097.5 L1101.5,1065.6 L1153.8,1035.8 L1206.1,958.1 L1258.4,920.6 L1310.7,873.8 L1363.0,833.0 L1415.3,797.7" stroke="#0000ff" stroke-width="3" fill="none" stroke-linejoin="round" stroke-linecap="butt"/>
<rect x="1060.6" y="1088.1" width="18.8" height="18.8" stroke="#0000ff" stroke-width="4.4" fill="none"/>
<rect x="1092.1" y="1056.2" width="18.8" height="18.8" stroke="#0000ff" stroke-width="4.4" fill="none"/>
<rect x="1144.4" y="1026.4" width="18.8" height="18.8" stroke="#0000ff" stroke-width="4.4" fill="none"/>
<rect x="1196.7" y="948.7" width="18.8" height="18.8" stroke="#0000ff" stroke-width="4.4" fill="none"/>
<rect x="1249.0" y="911.2" width="18.8" height="18.8" stroke="#0000ff" stroke-width="4.4" fill="none"/>
<rect x="1301.3" y="864.4" width="18.8" height="18.8" stroke="#0000ff" stroke-width="4.4" fill="none"/>
<rect x="1353.6" y="823.6" width="18.8" height="18.8" stroke="#0000ff" stroke-width="4.4" fill="none"/>
<rect x="1405.9" y="788.3" width="18.8" height="18.8" stroke="#0000ff" stroke-width="4.4" fill="none"/>
<path d="M1070.0,1044.7 L1101.5,1013.3 L1153.8,970.7 L1206.1,926.8 L1258.4,881.7 L1310.7,804.5 L1363.0,781.9" stroke="#111" stroke-width="2.6" fill="none" stroke-linejoin="round" stroke-linecap="butt"/>
<rect x="1060.6" y="1035.3" width="18.8" height="18.8" stroke="#111" stroke-width="2.6" fill="none"/>
<path d="M1060.6,1044.7H1079.4M1070.0,1035.3V1054.1" stroke="#111" stroke-width="2.21" fill="none"/>
<rect x="1092.1" y="1003.9" width="18.8" height="18.8" stroke="#111" stroke-width="2.6" fill="none"/>
<path d="M1092.1,1013.3H1110.9M1101.5,1003.9V1022.7" stroke="#111" stroke-width="2.21" fill="none"/>
<rect x="1144.4" y="961.3" width="18.8" height="18.8" stroke="#111" stroke-width="2.6" fill="none"/>
<path d="M1144.4,970.7H1163.2M1153.8,961.3V980.1" stroke="#111" stroke-width="2.21" fill="none"/>
<rect x="1196.7" y="917.4" width="18.8" height="18.8" stroke="#111" stroke-width="2.6" fill="none"/>
<path d="M1196.7,926.8H1215.5M1206.1,917.4V936.2" stroke="#111" stroke-width="2.21" fill="none"/>
<rect x="1249.0" y="872.3" width="18.8" height="18.8" stroke="#111" stroke-width="2.6" fill="none"/>
<path d="M1249.0,881.7H1267.8M1258.4,872.3V891.1" stroke="#111" stroke-width="2.21" fill="none"/>
<rect x="1301.3" y="795.1" width="18.8" height="18.8" stroke="#111" stroke-width="2.6" fill="none"/>
<path d="M1301.3,804.5H1320.1M1310.7,795.1V813.9" stroke="#111" stroke-width="2.21" fill="none"/>
<rect x="1353.6" y="772.5" width="18.8" height="18.8" stroke="#111" stroke-width="2.6" fill="none"/>
<path d="M1353.6,781.9H1372.4M1363.0,772.5V791.3" stroke="#111" stroke-width="2.21" fill="none"/>
<text transform="translate(983 1282.2) scale(1 1.06)" font-size="41" text-anchor="end" fill="#000"><tspan>0.0</tspan></text>
<text transform="translate(983 1151.5) scale(1 1.06)" font-size="41" text-anchor="end" fill="#000"><tspan>0.2</tspan></text>
<text transform="translate(983 1018.2) scale(1 1.06)" font-size="41" text-anchor="end" fill="#000"><tspan>0.4</tspan></text>
<text transform="translate(983 886.2) scale(1 1.06)" font-size="41" text-anchor="end" fill="#000"><tspan>0.6</tspan></text>
<text transform="translate(983 755.5) scale(1 1.06)" font-size="41" text-anchor="end" fill="#000"><tspan>0.8</tspan></text>
<text x="962.1" y="1341.3" font-size="40" text-anchor="start" fill="#000"><tspan>10</tspan><tspan font-size="27" dy="-26.5" dx="-0.5">-2</tspan></text>
<text x="1175.8" y="1341.3" font-size="40" text-anchor="start" fill="#000"><tspan>10</tspan><tspan font-size="27" dy="-26.5" dx="-0.5">0</tspan></text>
<text x="1385.0" y="1341.3" font-size="40" text-anchor="start" fill="#000"><tspan>10</tspan><tspan font-size="27" dy="-26.5" dx="-0.5">2</tspan></text>
<text x="1594.2" y="1341.3" font-size="40" text-anchor="start" fill="#000"><tspan>10</tspan><tspan font-size="27" dy="-26.5" dx="-0.5">4</tspan></text>
<text x="1129.2" y="1379.5" font-size="44" text-anchor="start" fill="#000"><tspan>pulse time width </tspan><tspan font-style="italic">t</tspan><tspan font-size="30" dy="8">EP</tspan><tspan dy="-8"> (μs)</tspan></text>
<text transform="translate(902.7 1177.8) rotate(-90) scale(0.948 1) skewX(-12)" font-size="46" text-anchor="start" fill="#000"><tspan>Δ</tspan></text>
<text transform="translate(902.7 1148.7) rotate(-90) scale(0.948 1)" font-size="46" text-anchor="start" fill="#000"><tspan font-style="italic">V</tspan><tspan font-size="30" dy="3">th</tspan><tspan dy="-3">=</tspan><tspan font-style="italic">V</tspan><tspan font-size="30" dy="3">thE</tspan><tspan dy="-3">-</tspan><tspan font-style="italic" dx="4">V</tspan><tspan font-size="30" dy="3">thP</tspan></text>
<text transform="translate(902.7 896.8) rotate(-90)" font-size="46" text-anchor="start" fill="#000"><tspan>(V)</tspan></text>
<text x="1012" y="789" font-size="44" text-anchor="start" fill="#000"><tspan>(d)</tspan></text>
<text x="1014" y="839.5" font-size="37.5" text-anchor="start" fill="#000"><tspan>(</tspan><tspan font-style="italic">V</tspan><tspan font-size="27" dy="2">E</tspan><tspan dy="-2">, </tspan><tspan font-style="italic">V</tspan><tspan font-size="27" dy="2">P</tspan><tspan dy="-2">)</tspan></text>
<text x="1126" y="779.8" font-size="39.4" text-anchor="start" fill="#111"><tspan>(-8.5V, 8.5V)</tspan></text>
<text x="1437" y="783.7" font-size="39.5" text-anchor="start" fill="#0000ff"><tspan>(-8V, 8V)</tspan></text>
<text x="1437" y="846.2" font-size="39.5" text-anchor="start" fill="#b24dff"><tspan>(-7.5V, 7.5V)</tspan></text>
<text x="1525.2" y="914.2" font-size="39.5" text-anchor="start" fill="#009a00"><tspan>(-7V, 7V)</tspan></text>
<text x="1479.7" y="973.7" font-size="39.5" text-anchor="start" fill="#ff0000"><tspan>(-6V, 6V)</tspan></text>
<text x="1543" y="1021.7" font-size="39.5" text-anchor="start" fill="#b5731a"><tspan>(-5V,5V)</tspan></text>
<text x="1524.5" y="1195.6" font-size="39.5" text-anchor="start" fill="#111"><tspan>(-4V, 4V)</tspan></text>
</g>
</g>
</svg>
</body></html>
